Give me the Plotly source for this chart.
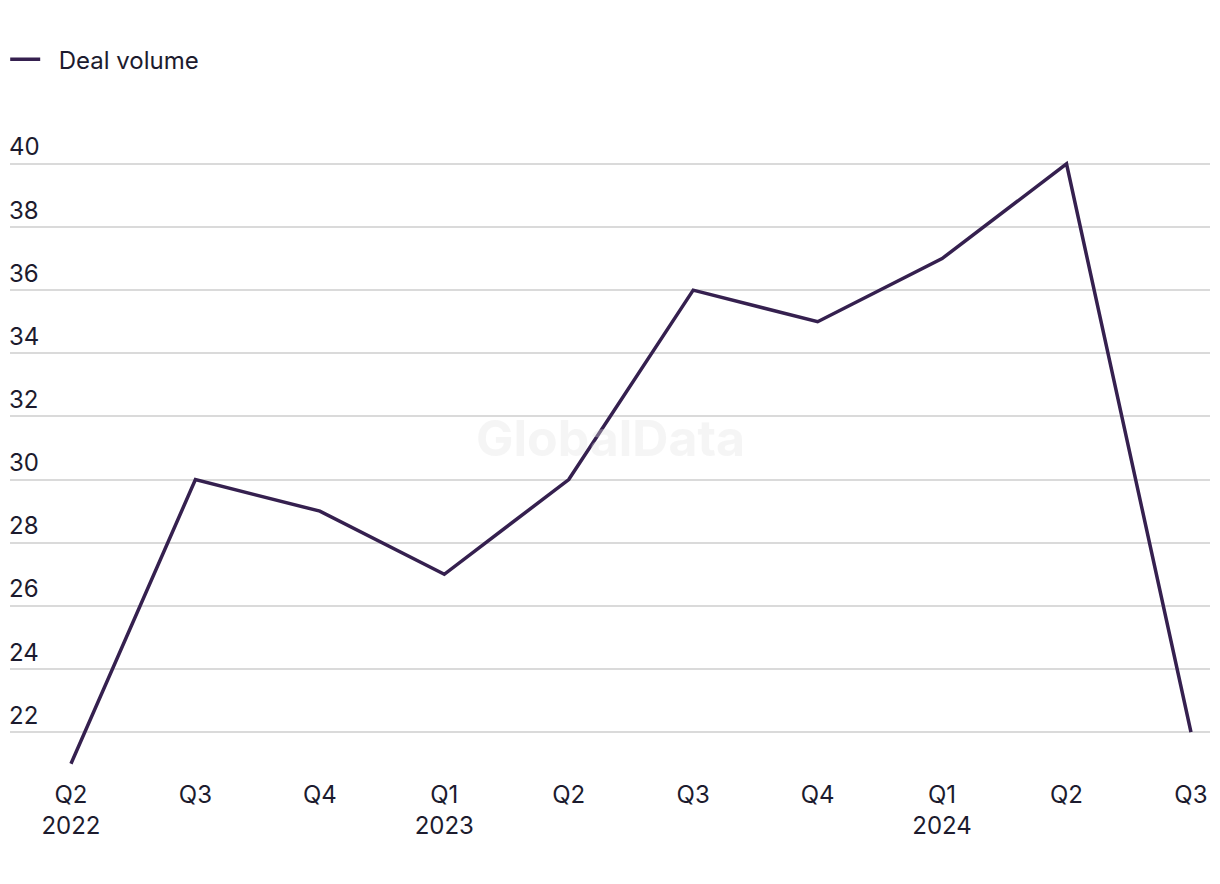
import plotly.graph_objects as go

# quarterly deal volume
quarters = ["Q2<br>2022", "Q3", "Q4", "Q1<br>2023", "Q2", "Q3", "Q4", "Q1<br>2024", "Q2", "Q3"]
deal_volume = [21, 30, 29, 27, 30, 36, 35, 37, 40, 22]
y_ticks = [22, 24, 26, 28, 30, 32, 34, 36, 38, 40]

TEXT = "#1c1b2e"
LINE = "#35204f"
FONT = "Inter, Arial, sans-serif"

fig = go.Figure()
fig.add_trace(go.Scatter(
    x=list(range(len(quarters))),
    y=deal_volume,
    mode="lines",
    name="\u00a0\u00a0Deal volume",
    line=dict(color=LINE, width=3.5),
))

# page body has an 8px margin, so the figure is a bit smaller than the window
fig.update_layout(
    width=1212,
    height=876,
    paper_bgcolor="white",
    plot_bgcolor="white",
    font=dict(family=FONT, size=24, color=TEXT),
    margin=dict(l=2, r=10, t=118, b=114, autoexpand=False),
    showlegend=True,
    legend=dict(
        orientation="h",
        x=-0.004, xanchor="left",
        y=1.103, yanchor="middle",
        font=dict(size=24, color=TEXT),
    ),
    annotations=[dict(
        text="<b>GlobalData</b>",
        x=0.5, y=0.515, xref="paper", yref="paper",
        showarrow=False,
        font=dict(size=50, color="rgba(225,225,225,0.35)", family=FONT),
    )],
)

fig.update_xaxes(
    tickmode="array",
    tickvals=list(range(len(quarters))),
    ticktext=quarters,
    range=[-0.49, 9.153],
    showgrid=False,
    zeroline=False,
    showline=False,
    ticks="",
    ticklabelstandoff=8,
    automargin=False,
    tickfont=dict(size=24, color=TEXT),
)

fig.update_yaxes(
    range=[20.8, 41.2],
    tickmode="array",
    tickvals=y_ticks,
    showgrid=True,
    gridcolor="#dadada",
    gridwidth=1.5,
    zeroline=False,
    showline=False,
    ticks="",
    ticklabelposition="inside top",
    ticklabelstandoff=-4,
    automargin=False,
    tickfont=dict(size=24, color=TEXT),
)

fig.write_html("out.html")
